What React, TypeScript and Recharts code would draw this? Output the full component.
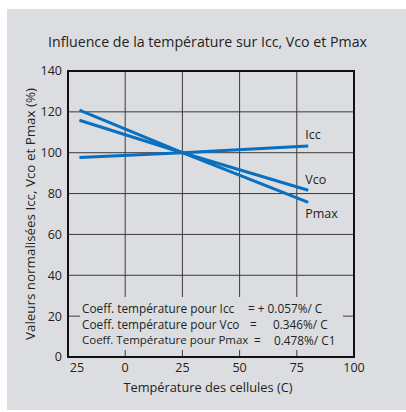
import React from "react"
import { LineChart, Line, XAxis, YAxis, CartesianGrid, ReferenceArea } from "recharts"

const temps = [-20, 25, 80]
const icc = [97.6, 100, 103.3]
const vco = [115.9, 100, 81.6]
const pmax = [120.9, 100, 75.7]

const xTicks = [-25, 0, 25, 50, 75, 100]
const xTickLabels = ["25", "0", "25", "50", "75", "100"]
const yTicks = [0, 20, 40, 60, 80, 100, 120, 140]

const seriesNames = ["Icc", "Vco", "Pmax"]

const data = temps.map((t, i) => ({ t, icc: icc[i], vco: vco[i], pmax: pmax[i] }))

const font = "'Open Sans', sans-serif"
const bg = "#dcdde0"
const blue = "#0b6fc0"
const ink = "#231f20"

const endLabel = (name: string, dy: number) => (props: any) => {
  const { x, y, index } = props
  if (index !== temps.length - 1) return null
  return (
    <text x={x - 3} y={y + dy} fontFamily={font} fontSize={12.5} fill={ink} dominantBaseline="central">
      {name}
    </text>
  )
}

const XTick = (props: any) => {
  const { x, y, payload, index } = props
  return (
    <text x={x + (index === 0 ? 9 : 0)} y={y} dy={7} textAnchor="middle" fontFamily={font} fontSize={12.5} fill={ink}>
      {xTickLabels[xTicks.indexOf(payload.value)]}
    </text>
  )
}

export default function App() {
  const txt: React.CSSProperties = { position: "absolute", fontFamily: font, fontSize: 11.8, color: ink, whiteSpace: "nowrap", lineHeight: "16px" }
  return (
    <div style={{ position: "absolute", left: 0, top: 0, width: 406, height: 412, background: "#fff" }}>
      <div style={{ position: "absolute", left: 7, top: 9, width: 399, height: 401, background: bg }} />
      <div style={{ position: "absolute", left: 0, top: 0 }}>
        <LineChart width={406} height={412} data={data} margin={{ top: 71, right: 52, bottom: 25, left: 38 }}>
          <CartesianGrid stroke="#3a3a3a" strokeWidth={1} />
          <XAxis
            dataKey="t"
            type="number"
            domain={[-25, 100]}
            ticks={xTicks}
            axisLine={false}
            tickLine={false}
            height={30}
            tick={<XTick />}
            interval={0}
          />
          <YAxis
            type="number"
            domain={[0, 140]}
            ticks={yTicks}
            axisLine={false}
            tickLine={false}
            tickSize={0}
            tickMargin={6}
            width={30}
            tick={{ fontFamily: font, fontSize: 12.5, fill: ink }}
            interval={0}
          />
          <ReferenceArea x1={-19.8} x2={95.2} y1={3.4} y2={29.4} fill={bg} fillOpacity={1} stroke="none" />
          <ReferenceArea x1={-25} x2={100} y1={0} y2={140} fill="none" stroke="#111" strokeWidth={2} />
          <Line dataKey="icc" stroke={blue} strokeWidth={3} dot={false} isAnimationActive={false} label={endLabel(seriesNames[0], -11)} />
          <Line dataKey="vco" stroke={blue} strokeWidth={3} dot={false} isAnimationActive={false} label={endLabel(seriesNames[1], -11)} />
          <Line dataKey="pmax" stroke={blue} strokeWidth={3} dot={false} isAnimationActive={false} label={endLabel(seriesNames[2], 11)} />
        </LineChart>
      </div>
      <div style={{ ...txt, left: 0, width: 415, top: 34, textAlign: "center", fontSize: 14.2 }}>
        Influence de la température sur Icc, Vco et Pmax
      </div>
      <div style={{ ...txt, left: 0, width: 416, top: 379, fontSize: 12.8, textAlign: "center" }}>Température des cellules (C)</div>
      <div
        style={{
          ...txt,
          fontSize: 13.4,
          left: 30,
          top: 214,
          transform: "translate(-50%, -50%) rotate(-90deg)",
        }}
      >
        Valeurs normalisées Icc, Vco et Pmax (%)
      </div>
      <div style={{ ...txt, left: 82, top: 300 }}>Coeff. température pour Icc</div>
      <div style={{ ...txt, left: 248, top: 300 }}>= + 0.057%/ C</div>
      <div style={{ ...txt, left: 82, top: 316 }}>Coeff. température pour Vco</div>
      <div style={{ ...txt, left: 250, top: 316 }}>=</div>
      <div style={{ ...txt, left: 273, top: 316 }}>0.346%/ C</div>
      <div style={{ ...txt, left: 82, top: 332, fontSize: 11.5 }}>Coeff. Température pour Pmax</div>
      <div style={{ ...txt, left: 254, top: 332 }}>=</div>
      <div style={{ ...txt, left: 274, top: 332 }}>0.478%/ C1</div>
    </div>
  )
}
